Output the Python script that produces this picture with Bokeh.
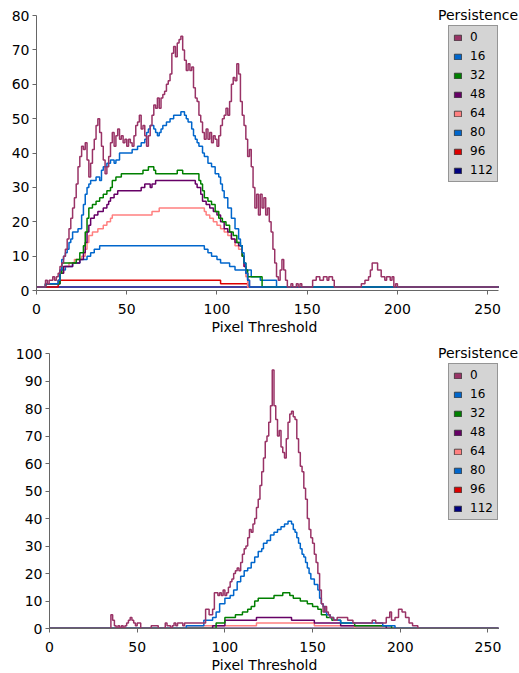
from bokeh.plotting import figure
from bokeh.models import Range1d, Legend, LegendItem, SingleIntervalTicker, Title
from bokeh.layouts import column
from bokeh.embed import file_html
from bokeh.resources import INLINE

persistence = ["0", "16", "32", "48", "64", "80", "96", "112"]
legend_title = "Persistence"
x_title = "Pixel Threshold"
colors = ["#993366", "#0066CC", "#008000", "#660066", "#FF8080", "#0066CC", "#DD0000", "#000080"]
x_ticks = [0, 50, 100, 150, 200, 250]
x_max = 256

# ---------------- top chart: step change points (threshold -> count) ----------------
top_x_0 = [0, 5, 6, 7, 9, 10, 11, 12, 13, 14, 15, 16, 17, 18, 19, 20, 21, 22, 23, 24, 25, 26, 27, 28, 29, 30,
           31, 32, 33, 34, 35, 36, 37, 38, 39, 40, 41, 42, 43, 44, 45, 46, 47, 48, 49, 50, 51, 52, 53, 54, 55,
           56, 57, 58, 59, 60, 61, 62, 63, 64, 65, 66, 67, 68, 69, 70, 71, 72, 73, 74, 75, 76, 77, 78, 79, 80,
           81, 82, 83, 84, 85, 86, 87, 88, 89, 90, 91, 92, 93, 94, 95, 96, 97, 98, 99, 100, 101, 102, 103, 104,
           105, 106, 107, 108, 109, 110, 111, 112, 113, 114, 115, 116, 117, 118, 119, 120, 121, 122, 123, 124,
           125, 126, 127, 128, 129, 130, 131, 132, 133, 134, 135, 136, 137, 138, 139, 141, 142, 144, 145, 146,
           147, 153, 155, 157, 159, 161, 162, 164, 165, 180, 182, 184, 185, 186, 189, 191, 193, 194, 196, 197,
           198, 199, 200]
top_v_0 = [1, 3, 2, 3, 4, 3, 4, 5, 7, 8, 10, 12, 15, 18, 21, 24, 27, 31, 36, 39, 42, 41, 43, 38, 33, 37,
           41, 44, 48, 50, 46, 42, 38, 34, 36, 39, 43, 46, 42, 45, 47, 44, 45, 43, 44, 42, 44, 43, 42, 45, 48,
           49, 51, 47, 48, 45, 42, 45, 48, 51, 54, 53, 56, 53, 56, 57, 58, 60, 61, 63, 69, 71, 68, 72, 73, 74,
           70, 67, 64, 66, 64, 65, 59, 56, 55, 51, 49, 46, 44, 47, 44, 46, 43, 45, 44, 42, 45, 48, 50, 51,
           53, 51, 55, 60, 62, 61, 66, 63, 55, 51, 48, 44, 39, 41, 36, 30, 24, 28, 22, 28,
           24, 27, 22, 24, 20, 17, 12, 8, 4, 3, 6, 9, 6, 3, 1, 2, 1, 2, 1, 2,
           1, 3, 4, 3, 4, 3, 4, 3, 1, 2, 3, 4, 6, 8, 6, 4, 3, 4, 3, 4,
           1, 2, 1]

top_x_16 = [0, 5, 12, 13, 14, 15, 16, 17, 18, 19, 20, 23, 25, 26, 27, 28, 29, 30, 33, 35, 36, 37, 39, 41, 43,
            44, 46, 53, 56, 58, 60, 61, 62, 63, 65, 66, 67, 68, 69, 70, 72, 74, 76, 80, 82, 83, 84, 86, 87, 88,
            89, 90, 92, 93, 95, 97, 99, 101, 102, 103, 104, 106, 108, 110, 112, 113, 114, 115, 116, 117, 118]
top_v_16 = [1, 2, 3, 6, 9, 10, 11, 12, 14, 15, 17, 18, 22, 25, 28, 30, 31, 32, 33, 32, 35, 36, 37, 38, 37,
            38, 40, 41, 42, 43, 44, 46, 47, 48, 47, 46, 45, 46, 47, 48, 49, 50, 51, 52, 51, 50, 49, 47, 45, 44,
            43, 42, 40, 39, 37, 36, 34, 33, 31, 29, 27, 24, 21, 18, 15, 13, 11, 8, 5, 3, 1]

top_x_32 = [0, 5, 13, 14, 22, 24, 26, 27, 28, 29, 31, 33, 35, 37, 39, 41, 42, 44, 47, 59, 62, 65, 66, 78, 81,
            88, 90, 91, 92, 93, 95, 97, 99, 101, 103, 105, 107, 109, 111, 113, 114, 115, 116, 117, 125]
top_v_32 = [1, 2, 5, 8, 9, 11, 13, 17, 21, 24, 25, 26, 27, 28, 29, 30, 32, 33, 34, 35, 36, 35, 34, 35, 34,
            34, 32, 31, 29, 27, 26, 25, 23, 21, 20, 19, 17, 16, 14, 13, 10, 8, 6, 4, 1]

top_x_48 = [0, 5, 13, 15, 20, 24, 26, 27, 28, 29, 30, 32, 34, 37, 39, 40, 41, 43, 45, 58, 60, 63, 64, 66, 88,
            89, 91, 92, 94, 96, 98, 100, 102, 104, 106, 108, 110, 112, 114, 115, 116, 117, 118]
top_v_48 = [1, 2, 5, 7, 8, 9, 11, 14, 17, 19, 21, 22, 23, 24, 25, 26, 27, 28, 29, 30, 31, 30, 31, 32, 31,
            30, 28, 26, 25, 24, 23, 22, 20, 18, 17, 15, 14, 13, 10, 7, 5, 3, 1]

top_x_64 = [0, 5, 13, 15, 18, 21, 25, 27, 28, 29, 31, 34, 37, 39, 41, 42, 64, 68, 93, 94, 96, 98, 100, 102,
            104, 106, 108, 110, 112, 114, 115, 116, 117]
top_v_64 = [1, 2, 5, 7, 8, 9, 10, 12, 14, 16, 17, 18, 19, 20, 21, 22, 23, 24, 23, 22, 21, 20, 19, 18,
            17, 16, 15, 13, 12, 10, 7, 4, 1]

top_x_80 = [0, 5, 13, 16, 20, 24, 28, 30, 32, 35, 93, 95, 97, 100, 102, 105, 107, 110, 119, 124, 133]
top_v_80 = [1, 2, 6, 7, 8, 9, 10, 11, 12, 13, 12, 11, 10, 9, 8, 8, 7, 6, 4, 3, 1]

top_x_96 = [0, 12, 102, 117]
top_v_96 = [1, 3, 2, 1]

top_x_112 = [0]
top_v_112 = [1]

# ---------------- bottom chart ----------------
bot_x_0 = [0, 35, 36, 37, 38, 39, 40, 41, 42, 43, 44, 45, 46, 47, 48, 49, 50, 52, 58, 62, 66, 67, 69, 70, 71,
           72, 73, 76, 77, 89, 91, 93, 94, 96, 97, 98, 99, 100, 101, 102, 103, 104, 105, 106, 107, 108, 109,
           110, 111, 112, 113, 114, 115, 116, 117, 118, 119, 120, 121, 122, 123, 124, 125, 126, 127, 128, 129,
           130, 131, 132, 133, 134, 135, 136, 137, 138, 139, 140, 141, 142, 143, 144, 145, 146, 147, 148, 149,
           150, 151, 152, 153, 154, 155, 156, 157, 158, 159, 160, 162, 164, 170, 173, 184, 186, 192, 194, 195,
           197, 199, 201, 203, 205, 207, 210]
bot_v_0 = [0, 5, 3, 1, 0, 1, 0, 1, 0, 1, 2, 3, 4, 3, 2, 1, 2, 0, 1, 0, 2, 1, 0, 1, 2,
           1, 2, 1, 2, 7, 5, 7, 13, 12, 13, 12, 14, 12, 13, 15, 17, 18, 20, 21, 22, 21, 24,
           27, 29, 30, 33, 36, 35, 38, 40, 44, 47, 52, 57, 62, 68, 70, 75, 81, 94, 81, 76,
           70, 72, 66, 64, 62, 69, 75, 78, 79, 77, 76, 69, 64, 59, 57, 51, 47, 40, 36, 33,
           31, 27, 24, 20, 14, 9, 6, 8, 6, 5, 4, 3, 4, 3, 2, 3, 2, 4, 6, 3,
           4, 7, 6, 4, 2, 1, 0]

bot_x_16 = [0, 78, 88, 93, 95, 97, 100, 103, 105, 107, 109, 111, 113, 115, 117, 119, 121, 122, 124, 126, 128,
            130, 132, 134, 136, 138, 139, 140, 141, 142, 143, 144, 145, 146, 147, 148, 149, 151, 153, 154, 155,
            156, 157, 158, 160, 162, 166, 190, 197]
bot_v_16 = [0, 1, 3, 4, 6, 9, 11, 12, 14, 17, 19, 21, 22, 24, 26, 28, 29, 31, 32, 34, 35,
            36, 37, 38, 39, 38, 36, 35, 33, 31, 29, 27, 26, 24, 22, 20, 18, 16, 14, 11, 9,
            8, 6, 5, 4, 3, 2, 1, 0]

bot_x_32 = [0, 95, 100, 106, 110, 113, 115, 117, 119, 128, 133, 137, 139, 143, 147, 150, 153, 155, 158, 161,
            166, 174, 195]
bot_v_32 = [0, 2, 4, 5, 6, 7, 8, 10, 11, 12, 13, 12, 11, 10, 9, 8, 7, 5, 4, 3,
            2, 1, 0]

bot_x_48 = [0, 93, 100, 118, 138, 151, 166, 192]
bot_v_48 = [0, 1, 3, 4, 3, 2, 1, 0]

bot_x_64 = [0, 78, 118, 151, 174]
bot_v_64 = [0, 1, 2, 1, 0]

bot_x_80 = [0]
bot_v_80 = [0]

bot_x_96 = [0]
bot_v_96 = [0]

bot_x_112 = [0]
bot_v_112 = [0]

top_series = [(top_x_0, top_v_0), (top_x_16, top_v_16), (top_x_32, top_v_32), (top_x_48, top_v_48),
              (top_x_64, top_v_64), (top_x_80, top_v_80), (top_x_96, top_v_96), (top_x_112, top_v_112)]
bot_series = [(bot_x_0, bot_v_0), (bot_x_16, bot_v_16), (bot_x_32, bot_v_32), (bot_x_48, bot_v_48),
              (bot_x_64, bot_v_64), (bot_x_80, bot_v_80), (bot_x_96, bot_v_96), (bot_x_112, bot_v_112)]

FONT = "DejaVu Sans"
AXIS_COLOR = "#666666"
W = 519
AXIS_RIGHT = 498     # px where threshold 256 sits
AXIS_TOP = 15        # px where the top y tick sits
AXIS_ZERO = 290      # px where y = 0 sits
FRAME_TOP = 2
LEG_H = 155
TITLE_LEFT = 211     # px where the x-axis title starts


def make_chart(series, y_max, height, b_left, b_bottom):
    x_end = x_max * (W - b_left) / (AXIS_RIGHT - b_left)
    y_end = y_max * (AXIS_ZERO - FRAME_TOP) / (AXIS_ZERO - AXIS_TOP)
    p = figure(width=W, height=height, output_backend="svg", toolbar_location=None,
               x_range=Range1d(0, x_end), y_range=Range1d(0, y_end),
               min_border_left=b_left, min_border_right=0,
               min_border_top=FRAME_TOP, min_border_bottom=b_bottom)
    if hasattr(p, "frame_align"):
        p.frame_align = False
    p.outline_line_color = None
    p.xgrid.grid_line_color = None
    p.ygrid.grid_line_color = None
    p.background_fill_color = "white"
    p.border_fill_color = "white"

    p.xaxis.ticker = x_ticks
    p.xaxis.bounds = (0, x_max)
    p.yaxis.ticker = SingleIntervalTicker(interval=10)
    p.yaxis.bounds = (0, y_max)
    for ax in (p.xaxis, p.yaxis):
        ax.axis_line_color = AXIS_COLOR
        ax.major_tick_line_color = AXIS_COLOR
        ax.major_tick_out = 4
        ax.major_tick_in = 0
        ax.minor_tick_line_color = None
        ax.major_label_text_font = FONT
        ax.major_label_text_font_size = "14px"
        ax.major_label_text_color = "black"
    p.yaxis.major_label_standoff = 3
    p.xaxis.major_label_standoff = 9

    p.add_layout(Title(text=x_title, align="left", offset=TITLE_LEFT - b_left,
                       text_font=FONT, text_font_size="14px", text_font_style="normal",
                       text_color="black", standoff=0), "below")

    for i in reversed(range(len(series))):
        xs, vs = series[i]
        p.step(list(xs) + [x_max], list(vs) + [vs[-1]], mode="after",
               line_color=colors[i], line_width=1.5)
    renderers = []
    for i in range(len(series)):
        # legend swatch only: placed outside the visible ranges
        r = p.quad(left=[-20], right=[-19], top=[-20], bottom=[-21], fill_color=colors[i],
                   line_color="#333333", line_width=0.8)
        renderers.append(r)

    items = [LegendItem(label=persistence[i], renderers=[renderers[i]]) for i in range(len(series))]
    legend = Legend(items=items, location=(448 - b_left, AXIS_ZERO - 27 - LEG_H),
                    background_fill_color="#D4D4D4", background_fill_alpha=1.0,
                    border_line_color="#555555", border_line_width=1,
                    label_text_font=FONT, label_text_font_size="12px", label_text_color="black",
                    glyph_width=9, glyph_height=7, label_standoff=8, padding=4, spacing=5,
                    label_height=14, margin=0)
    p.add_layout(legend)

    # legend heading, drawn as a separate frameless legend so it can sit above the box
    hidden = p.quad(left=[-20], right=[-19], top=[-20], bottom=[-21],
                    fill_alpha=0, line_alpha=0)
    head = Legend(items=[LegendItem(label=legend_title, renderers=[hidden])],
                  location=(438 - b_left, AXIS_ZERO - 6 - 17),
                  background_fill_alpha=0, border_line_color=None,
                  label_text_font=FONT, label_text_font_size="14px", label_text_color="black",
                  glyph_width=0, glyph_height=1, label_standoff=0, padding=0, spacing=0,
                  label_height=17, margin=0)
    p.add_layout(head)
    return p


p1 = make_chart(top_series, 80, 338, 36, 48)
p2 = make_chart(bot_series, 100, 335, 49, 45)

layout = column(p1, p2)
open("out.html", "w").write(file_html(layout, INLINE))
